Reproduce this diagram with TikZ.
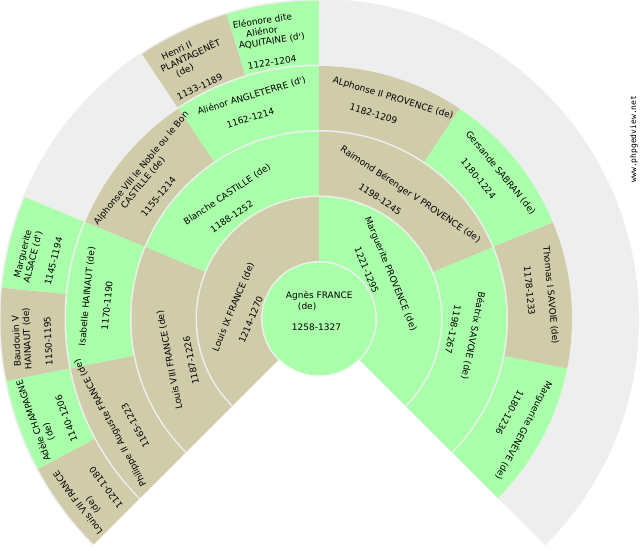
\documentclass[tikz,border=0pt]{standalone}
\usepackage{fontspec}
\newfontfamily\fanfont{DejaVu Sans}
\newfontfamily\fanmono{DejaVu Sans Mono}
\definecolor{fgreen}{HTML}{AAFFAA}
\definecolor{ftan}{HTML}{D0CCAA}
\definecolor{fgray}{HTML}{EEEEEE}
\newdimen\fanspace \fanspace=3pt
\newcommand\fanline[2]{\hbox{\kern#1\fanspace #2}}
\newcommand\fanlabel[5]{\node[fanlab,rotate=#4] (#1) at (#2:#3) {\vtop{\lineskiplimit=-20pt #5}};}
\newcommand\fansector[4]{\fill[#1] (0,0) -- (#2:#4) arc[start angle=#2, end angle=#3, radius=#4] -- cycle;}
\newcommand\fanclean[1]{\fill[fgray] (0,0) -- (-45:#1) arc[start angle=-45, end angle=225, radius=#1] -- cycle;}
\tikzset{fanlab/.style={font=\fanfont\fontsize{9}{10.6}\selectfont, inner sep=0pt, outer sep=0pt, anchor=base west, text=black}}
\begin{document}
\begin{tikzpicture}[x=1pt,y=1pt]
\useasboundingbox (-319,-231) rectangle (321,319);
\fill[white] (-319,-231) rectangle (321,319);
% generation 4
\fanclean{320}
\fansector{fgreen}{90}{106.875}{318.5}
\fanlabel{eleonore}{106.435}{303}{8.4375}{\fanline{0}{Eléonore dite}\fanline{4}{Aliénor}\fanline{1}{AQUITAINE (d')}\fanline{0}{}\fanline{3}{1122-1204}}
\fansector{ftan}{106.875}{123.75}{318.5}
\fanlabel{henri}{123.31}{303}{25.3125}{\fanline{4}{Henri II}\fanline{2}{PLANTAGENÊT}\fanline{6}{(de)}\fanline{0}{}\fanline{3}{1133-1189}}
\fansector{fgreen}{157.5}{174.375}{318.5}
\fanlabel{alsace}{173.935}{303}{75.9375}{\fanline{3}{Marguerite}\fanline{2}{ALSACE (d')}\fanline{0}{}\fanline{3}{1145-1194}}
\fansector{ftan}{174.375}{191.25}{318.5}
\fanlabel{baudouin}{190.81}{303}{92.8125}{\fanline{3}{Baudouin V}\fanline{2}{HAINAUT (de)}\fanline{0}{}\fanline{3}{1150-1195}}
\fansector{fgreen}{191.25}{208.125}{318.5}
\fanlabel{adele}{207.685}{303}{109.6875}{\fanline{0}{Adèle CHAMPAGNE}\fanline{6}{(de)}\fanline{0}{}\fanline{3}{1140-1206}}
\fansector{ftan}{208.125}{225}{318.5}
\fanlabel{louisvii}{224.56}{303}{126.5625}{\fanline{0}{Louis VII FRANCE}\fanline{6}{(de)}\fanline{0}{}\fanline{3}{1120-1180}}
% generation 3
\fanclean{254.5}
\fansector{fgreen}{-45}{-11.25}{253}
\fanlabel{geneve}{-11.69}{240}{-118.125}{\fanline{5}{Marguerite GENÈVE (de)}\fanline{0}{}\fanline{12}{1180-1236}}
\fansector{ftan}{-11.25}{22.5}{253}
\fanlabel{thomas}{22.06}{240}{-84.375}{\fanline{6}{Thomas I SAVOIE (de)}\fanline{0}{}\fanline{12}{1178-1233}}
\fansector{fgreen}{22.5}{56.25}{253}
\fanlabel{gersande}{55.81}{240}{-50.625}{\fanline{6}{Gersande SABRAN (de)}\fanline{0}{}\fanline{12}{1180-1224}}
\fansector{ftan}{56.25}{90}{253}
\fanlabel{alphonseii}{89.56}{240}{-16.875}{\fanline{4}{ALphonse II PROVENCE (de)}\fanline{0}{}\fanline{12}{1182-1209}}
\fansector{fgreen}{90}{123.75}{253}
\fanlabel{alienor}{123.31}{240}{16.875}{\fanline{4}{Aliénor ANGLETERRE (d')}\fanline{0}{}\fanline{12}{1162-1214}}
\fansector{ftan}{123.75}{157.5}{253}
\fanlabel{alphonseviii}{157.06}{240}{50.625}{\fanline{0}{Alphonse VIII le Noble ou le Bon}\fanline{10}{CASTILLE (de)}\fanline{0}{}\fanline{12}{1155-1214}}
\fansector{fgreen}{157.5}{191.25}{253}
\fanlabel{isabelle}{190.81}{240}{84.375}{\fanline{6}{Isabelle HAINAUT (de)}\fanline{0}{}\fanline{12}{1170-1190}}
\fansector{ftan}{191.25}{225}{253}
\fanlabel{philippe}{224.56}{240}{118.125}{\fanline{1}{Philippe II Auguste FRANCE (de)}\fanline{0}{}\fanline{12}{1165-1223}}
% generation 2
\fanclean{189}
\fansector{fgreen}{-45}{22.5}{187.5}
\fanlabel{beatrix}{16.364}{171}{-101.25}{\fanline{7}{Béatrix SAVOIE (de)}\fanline{0}{}\fanline{13}{1198-1267}}
\fansector{ftan}{22.5}{90}{187.5}
\fanlabel{raimond}{83.864}{171}{-33.75}{\fanline{1}{Raimond Bérenger V PROVENCE (de)}\fanline{0}{}\fanline{13}{1198-1245}}
\fansector{fgreen}{90}{157.5}{187.5}
\fanlabel{blanche}{151.364}{171}{33.75}{\fanline{7}{Blanche CASTILLE (de)}\fanline{0}{}\fanline{13}{1188-1252}}
\fansector{ftan}{157.5}{225}{187.5}
\fanlabel{louisviii}{218.864}{171}{101.25}{\fanline{6}{Louis VIII FRANCE (de)}\fanline{0}{}\fanline{13}{1187-1226}}
% generation 1
\fanclean{123.5}
\fansector{fgreen}{-45}{90}{122}
\fanlabel{margprov}{70.714}{121}{-67.5}{\fanline{5}{Marguerite PROVENCE (de)}\fanline{0}{}\fanline{13}{1221-1295}}
\fansector{ftan}{90}{225}{122}
\fanlabel{louisix}{205.714}{121}{67.5}{\fanline{7}{Louis IX FRANCE (de)}\fanline{0}{}\fanline{13}{1214-1270}}
% generation 0
\fanclean{58}
\fill[fgreen] (0,0) circle[radius=56.5];
\node[fanlab] (agnes) at (-39,20.5) {\vtop{\lineskiplimit=-20pt \fanline{2}{Agnès FRANCE}\fanline{6}{(de)}\fanline{0}{}\fanline{4}{1258-1327}}};
% site mark
\node[font=\fanmono\fontsize{8}{8}\selectfont, rotate=90, inner sep=0pt, text=black] (site) at (315,180) {www.phpgedview.net};
\end{tikzpicture}
\end{document}
